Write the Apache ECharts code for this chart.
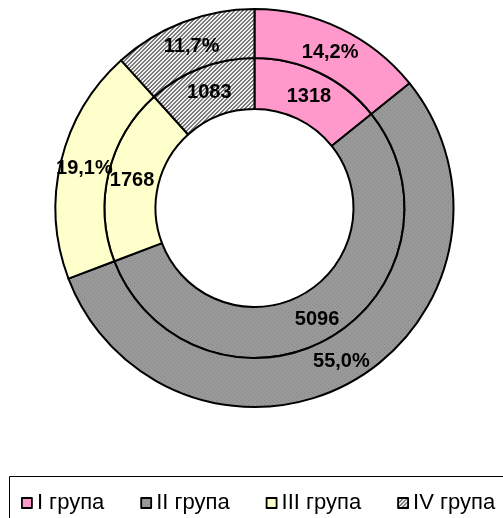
<!DOCTYPE html>
<html>
<head>
<meta charset="utf-8">
<script src="https://cdn.jsdelivr.net/npm/echarts@6/dist/echarts.min.js"></script>
<style>html,body{margin:0;padding:0;background:#fff;}#c{width:503px;height:518px;}</style>
</head>
<body>
<div id="c"></div>
<script>
var categories = ['I група', 'II група', 'III група', 'IV група'];
var counts = [1318, 5096, 1768, 1083];

function pattern(w, h, draw) {
  var cv = document.createElement('canvas');
  cv.width = w; cv.height = h;
  var ctx = cv.getContext('2d');
  draw(ctx);
  return { image: cv, repeat: 'repeat' };
}
var grayDots = pattern(4, 4, function (ctx) {
  ctx.fillStyle = '#999999'; ctx.fillRect(0, 0, 4, 4);
  ctx.fillStyle = '#888888'; ctx.fillRect(0, 0, 1, 1); ctx.fillRect(2, 2, 1, 1);
});
var hatch = pattern(4, 4, function (ctx) {
  ctx.fillStyle = '#f0f0f0'; ctx.fillRect(0, 0, 4, 4);
  ctx.fillStyle = '#7a7a7a';
  for (var x = 0; x < 4; x++) for (var y = 0; y < 4; y++) {
    var s = (x + y) % 4;
    if (s === 0 || s === 1) ctx.fillRect(x, y, 1, 1);
  }
});
var fills = ['#ff99cc', grayDots, '#ffffcc', hatch];

function ringData() {
  return categories.map(function (n, i) {
    return { name: n, value: counts[i], itemStyle: { color: fills[i] } };
  });
}
function labelData() {
  return categories.map(function (n, i) {
    return { name: n, value: counts[i], itemStyle: { color: 'rgba(0,0,0,0)', borderWidth: 0 } };
  });
}

var FONT = '"Liberation Sans", Arial, sans-serif';
var CENTER = [254.5, 208];
var labelStyle = { position: 'inside', fontFamily: FONT, fontWeight: 'bold', fontSize: 20, color: '#000', offset: [0, 2] };

function ring(radius) {
  return {
    type: 'pie', center: CENTER, radius: radius,
    startAngle: 90, clockwise: true, silent: true,
    emphasis: { disabled: true },
    itemStyle: { borderColor: '#000', borderWidth: 2 },
    label: { show: false }, labelLine: { show: false },
    data: ringData()
  };
}
function labels(radius, formatter) {
  return {
    type: 'pie', center: CENTER, radius: radius, z: 5,
    startAngle: 90, clockwise: true, silent: true, avoidLabelOverlap: false,
    emphasis: { disabled: true },
    label: Object.assign({ formatter: formatter }, labelStyle),
    labelLine: { show: false },
    labelLayout: { hideOverlap: false },
    data: labelData()
  };
}

var chart = echarts.init(document.getElementById('c'), null, { renderer: 'canvas' });
chart.setOption({
  animation: false,
  backgroundColor: '#fff',
  legend: {
    left: 16, top: 487,
    itemWidth: 10, itemHeight: 10, itemGap: 36,
    icon: 'rect',
    data: categories.map(function (n, i) {
      return { name: n, itemStyle: { color: fills[i], borderColor: '#000', borderWidth: 1.8 } };
    }),
    textStyle: { fontFamily: FONT, fontSize: 22, color: '#000' },
    selectedMode: false
  },
  graphic: [{
    type: 'rect', shape: { x: 9.5, y: 476.5, width: 520, height: 80 },
    style: { fill: 'none', stroke: '#000', lineWidth: 1 }, silent: true
  }],
  series: [
    ring([99, 150]),
    ring([150, 199]),
    labels([72, 174], function (p) { return String(p.value); }),
    labels([122, 222], function (p) { return p.percent.toFixed(1).replace('.', ',') + '%'; })
  ]
});
</script>
</body>
</html>
